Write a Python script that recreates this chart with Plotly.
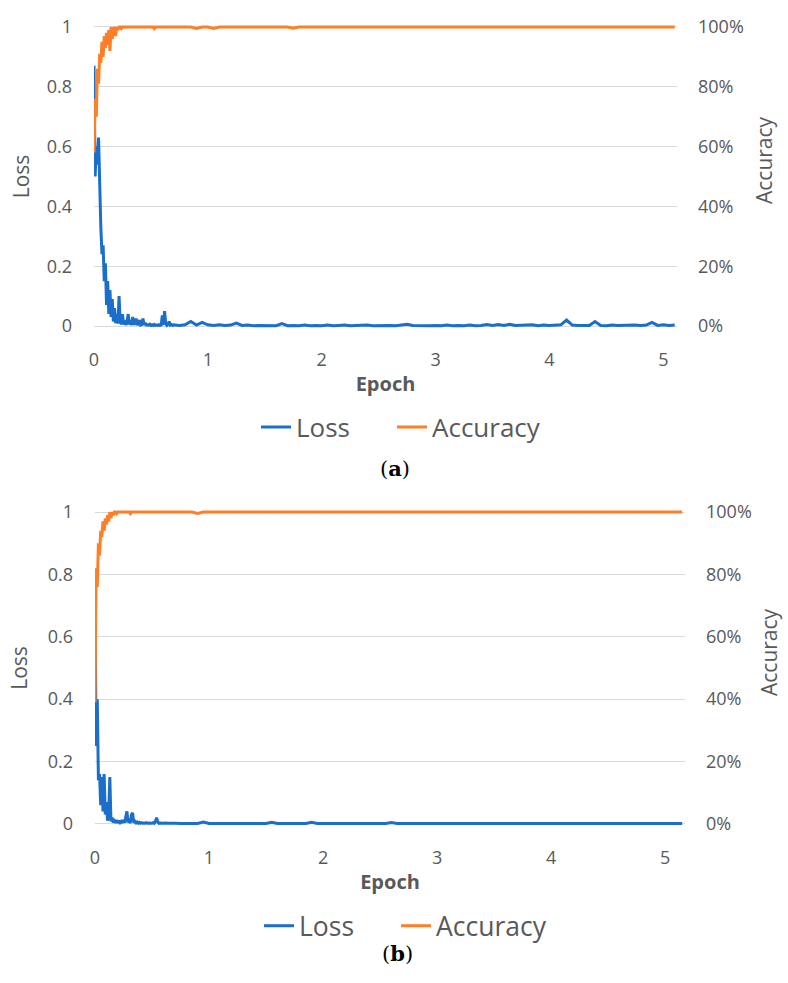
import plotly.graph_objects as go

# ---------------- data ----------------
# Panel (a): dense early samples every 0.01 epoch (0.00-0.70), then every 0.05 epoch
loss_a_early = [0.87, 0.50, 0.60, 0.54, 0.63, 0.42, 0.33, 0.24, 0.27, 0.15,
                0.21, 0.07, 0.15, 0.04, 0.12, 0.03, 0.09, 0.015, 0.06, 0.01,
                0.04, 0.008, 0.10, 0.015, 0.006, 0.04, 0.005, 0.02, 0.004, 0.012,
                0.04, 0.005, 0.02, 0.003, 0.03, 0.004, 0.01, 0.025, 0.003, 0.008,
                0.02, 0.003, 0.005, 0.025, 0.003, 0.01, 0.003, 0.004, 0.003, 0.006,
                0.002, 0.004, 0.002, 0.005, 0.002, 0.003, 0.002, 0.004, 0.002, 0.003,
                0.035, 0.004, 0.05, 0.008, 0.002, 0.006, 0.015, 0.003, 0.005, 0.002,
                0.004]
loss_a_late = [0.002, 0.004, 0.015, 0.003, 0.012, 0.004, 0.002, 0.004, 0.002, 0.003,
               0.010, 0.002, 0.003, 0.001, 0.002, 0.001, 0.002, 0.001, 0.008, 0.001,
               0.002, 0.001, 0.003, 0.001, 0.002, 0.001, 0.003, 0.001, 0.002, 0.003,
               0.001, 0.002, 0.001, 0.003, 0.001, 0.002, 0.001, 0.002, 0.001, 0.003,
               0.006, 0.002, 0.001, 0.002, 0.001, 0.002, 0.001, 0.003, 0.001, 0.002,
               0.001, 0.003, 0.001, 0.002, 0.005, 0.002, 0.005, 0.002, 0.006, 0.002,
               0.003, 0.002, 0.004, 0.001, 0.003, 0.002, 0.003, 0.004, 0.020, 0.003,
               0.002, 0.003, 0.002, 0.015, 0.002, 0.001, 0.003, 0.002, 0.003, 0.002,
               0.003, 0.002, 0.003, 0.012, 0.002, 0.004, 0.002, 0.003]
acc_a_early = [0.58, 0.76, 0.70, 0.86, 0.81, 0.91, 0.88, 0.95, 0.90, 0.97,
               0.93, 0.98, 0.94, 0.99, 0.92, 1.00, 0.96, 0.99, 1.00, 0.97,
               1.00, 0.99, 1.00, 1.00, 0.995, 1.00, 1.00, 1.00, 1.00, 1.00,
               1.00, 1.00, 1.00, 1.00, 1.00, 1.00, 1.00, 1.00, 1.00, 1.00,
               1.00, 1.00, 1.00, 1.00, 1.00, 1.00, 1.00, 1.00, 1.00, 1.00,
               1.00, 1.00, 1.00, 0.995, 1.00, 1.00, 1.00, 1.00, 1.00, 1.00,
               1.00, 1.00, 1.00, 1.00, 1.00, 1.00, 1.00, 1.00, 1.00, 1.00,
               1.00]
acc_a_late = [1.00, 1.00, 1.00, 0.995, 1.00, 1.00, 0.995, 1.00, 1.00, 1.00,
              1.00, 1.00, 1.00, 1.00, 1.00, 1.00, 1.00, 1.00, 1.00, 1.00,
              0.996, 1.00, 1.00, 1.00, 1.00, 1.00, 1.00, 1.00, 1.00, 1.00,
              1.00, 1.00, 1.00, 1.00, 1.00, 1.00, 1.00, 1.00, 1.00, 1.00,
              1.00, 1.00, 1.00, 1.00, 1.00, 1.00, 1.00, 1.00, 1.00, 1.00,
              1.00, 1.00, 1.00, 1.00, 1.00, 1.00, 1.00, 1.00, 1.00, 1.00,
              1.00, 1.00, 1.00, 1.00, 1.00, 1.00, 1.00, 1.00, 1.00, 1.00,
              1.00, 1.00, 1.00, 1.00, 1.00, 1.00, 1.00, 1.00, 1.00, 1.00,
              1.00, 1.00, 1.00, 1.00, 1.00, 1.00, 1.00, 1.00]

# Panel (b)
loss_b_early = [0.73, 0.25, 0.40, 0.14, 0.16, 0.06, 0.15, 0.04, 0.16, 0.03,
                0.07, 0.01, 0.03, 0.15, 0.008, 0.02, 0.005, 0.01, 0.004, 0.012,
                0.003, 0.01, 0.004, 0.008, 0.003, 0.012, 0.004, 0.03, 0.04, 0.005,
                0.01, 0.003, 0.03, 0.035, 0.004, 0.008, 0.003, 0.006, 0.002, 0.005,
                0.002, 0.004, 0.002, 0.003, 0.002, 0.004, 0.002, 0.003, 0.002, 0.003,
                0.002, 0.004, 0.002, 0.008, 0.02, 0.006, 0.002, 0.003, 0.002, 0.003,
                0.002, 0.003, 0.002, 0.003, 0.002, 0.002, 0.003, 0.002, 0.002, 0.003,
                0.002]
loss_b_late = [0.001, 0.002, 0.001, 0.001, 0.006, 0.001, 0.002, 0.001, 0.001, 0.002,
               0.001, 0.001, 0.002, 0.001, 0.001, 0.001, 0.005, 0.001, 0.001, 0.002,
               0.001, 0.001, 0.001, 0.005, 0.001, 0.001, 0.001, 0.001, 0.003, 0.001,
               0.001, 0.001, 0.001, 0.001, 0.003, 0.001, 0.001, 0.004, 0.001, 0.001,
               0.001, 0.001, 0.001, 0.001, 0.002, 0.001, 0.001, 0.001, 0.001, 0.001,
               0.002, 0.001, 0.001, 0.001, 0.001, 0.001, 0.001, 0.002, 0.001, 0.001,
               0.001, 0.001, 0.002, 0.001, 0.001, 0.001, 0.002, 0.001, 0.001, 0.001,
               0.001, 0.001, 0.001, 0.001, 0.001, 0.002, 0.001, 0.001, 0.001, 0.001,
               0.001, 0.001, 0.001, 0.001, 0.001, 0.001, 0.002, 0.001, 0.001]
acc_b_early = [0.39, 0.82, 0.76, 0.90, 0.86, 0.94, 0.92, 0.97, 0.94, 0.98,
               0.96, 0.99, 0.97, 1.00, 0.98, 1.00, 0.99, 1.00, 1.00, 0.995,
               1.00, 1.00, 1.00, 1.00, 1.00, 1.00, 1.00, 1.00, 1.00, 1.00,
               1.00, 0.995, 1.00, 1.00, 1.00, 1.00, 1.00, 1.00, 1.00, 1.00,
               1.00, 1.00, 1.00, 1.00, 1.00, 1.00, 1.00, 1.00, 1.00, 1.00,
               1.00, 1.00, 1.00, 1.00, 1.00, 1.00, 1.00, 1.00, 1.00, 1.00,
               1.00, 1.00, 1.00, 1.00, 1.00, 1.00, 1.00, 1.00, 1.00, 1.00,
               1.00]
acc_b_late = [1.00, 1.00, 1.00, 0.996, 1.00, 1.00, 1.00, 1.00, 1.00, 1.00,
              1.00, 1.00, 1.00, 1.00, 1.00, 1.00, 1.00, 1.00, 1.00, 1.00,
              1.00, 1.00, 1.00, 1.00, 1.00, 1.00, 1.00, 1.00, 1.00, 1.00,
              1.00, 1.00, 1.00, 1.00, 1.00, 1.00, 1.00, 1.00, 1.00, 1.00,
              1.00, 1.00, 1.00, 1.00, 1.00, 1.00, 1.00, 1.00, 1.00, 1.00,
              1.00, 1.00, 1.00, 1.00, 1.00, 1.00, 1.00, 1.00, 1.00, 1.00,
              1.00, 1.00, 1.00, 1.00, 1.00, 1.00, 1.00, 1.00, 1.00, 1.00,
              1.00, 1.00, 1.00, 1.00, 1.00, 1.00, 1.00, 1.00, 1.00, 1.00,
              1.00, 1.00, 1.00, 1.00, 1.00, 1.00, 1.00, 1.00, 1.00]

x_ticks = [0, 1, 2, 3, 4, 5]
loss_ticks = [0, 0.2, 0.4, 0.6, 0.8, 1]
loss_tick_labels = ["0", "0.2", "0.4", "0.6", "0.8", "1"]
acc_ticks = [0, 0.2, 0.4, 0.6, 0.8, 1]
acc_tick_labels = ["0%", "20%", "40%", "60%", "80%", "100%"]


def epochs(n_early, n_late):
    early = [round(i * 0.01, 2) for i in range(n_early)]
    late = [round(0.75 + i * 0.05, 2) for i in range(n_late)]
    return early + late


ep_a = epochs(len(loss_a_early), len(loss_a_late))
ep_b = epochs(len(loss_b_early), len(loss_b_late))
loss_a = loss_a_early + loss_a_late
acc_a = acc_a_early + acc_a_late
loss_b = loss_b_early + loss_b_late
acc_b = acc_b_early + acc_b_late

# ---------------- styling ----------------
BLUE = "#1b6fca"
ORANGE = "#fd7f27"
TXT = "#595959"
GRID = "#d9d9d9"
FONT = "Open Sans"
W, H = 788, 983

fig = go.Figure()
fig.add_trace(go.Scatter(x=ep_a, y=loss_a, name="Loss", mode="lines",
                         line=dict(color=BLUE, width=3), xaxis="x", yaxis="y",
                         legend="legend", legendwidth=91))
fig.add_trace(go.Scatter(x=ep_a, y=acc_a, name="Accuracy", mode="lines",
                         line=dict(color=ORANGE, width=3), xaxis="x", yaxis="y2",
                         legend="legend", legendwidth=125))
fig.add_trace(go.Scatter(x=ep_b, y=loss_b, name="Loss", mode="lines",
                         line=dict(color=BLUE, width=3), xaxis="x2", yaxis="y3",
                         legend="legend2", legendwidth=92))
fig.add_trace(go.Scatter(x=ep_b, y=acc_b, name="Accuracy", mode="lines",
                         line=dict(color=ORANGE, width=3), xaxis="x2", yaxis="y4",
                         legend="legend2", legendwidth=125))


def px_y(p):
    return 1 - p / H


def xaxis_cfg(domain, rng, anchor):
    return dict(domain=domain, range=rng, anchor=anchor, tickvals=x_ticks,
                showgrid=False, zeroline=False, showline=False, ticks="",
                automargin=False,
                tickfont=dict(family=FONT, size=18, color=TXT),
                ticklabelstandoff=18,
                title=dict(text="<b>Epoch</b>", standoff=6,
                           font=dict(family=FONT, size=20, color=TXT)))


def yleft_cfg(domain, anchor, standoff):
    return dict(domain=domain, range=[-0.01, 1.01], anchor=anchor,
                tickvals=loss_ticks, ticktext=loss_tick_labels,
                showgrid=True, gridcolor=GRID, gridwidth=1, zeroline=False,
                showline=False, ticks="", ticklabelstandoff=21, automargin=False,
                tickfont=dict(family=FONT, size=18, color=TXT),
                title=dict(text="Loss", standoff=standoff,
                           font=dict(family=FONT, size=21, color=TXT)))


def yright_cfg(overlay, anchor):
    return dict(overlaying=overlay, side="right", range=[-0.01, 1.01], anchor=anchor,
                tickvals=acc_ticks, ticktext=acc_tick_labels, showgrid=False,
                zeroline=False, showline=False, ticks="", ticklabelstandoff=20,
                automargin=False,
                tickfont=dict(family=FONT, size=18, color=TXT))


dom_xa = [94 / W, 677 / W]
dom_ya = [px_y(329), px_y(24)]
dom_xb = [95 / W, 685 / W]
dom_yb = [px_y(827), px_y(509)]

title_font = dict(family=FONT, size=21, color=TXT)
cap_font = dict(family="DejaVu Serif", size=21, color="#000000")

fig.update_layout(
    width=W, height=H,
    margin=dict(l=0, r=0, t=0, b=0, autoexpand=False),
    paper_bgcolor="white", plot_bgcolor="white",
    font=dict(family=FONT, color=TXT),
    xaxis=xaxis_cfg(dom_xa, [0, 5.12], "y"),
    yaxis=yleft_cfg(dom_ya, "x", 11),
    yaxis2=yright_cfg("y", "x"),
    xaxis2=xaxis_cfg(dom_xb, [0, 5.175], "y3"),
    yaxis3=yleft_cfg(dom_yb, "x2", 14),
    yaxis4=yright_cfg("y3", "x2"),
    legend=dict(orientation="h", x=256 / W, xanchor="left", y=px_y(427), yanchor="middle",
                font=dict(family=FONT, size=26, color=TXT),
                bgcolor="rgba(0,0,0,0)"),
    legend2=dict(orientation="h", x=259 / W, xanchor="left", y=px_y(926), yanchor="middle",
                 font=dict(family=FONT, size=26.5, color=TXT),
                 bgcolor="rgba(0,0,0,0)"),
    annotations=[
        dict(text="Accuracy", x=764 / W, y=px_y(160), xref="paper", yref="paper",
             xanchor="center", yanchor="middle",
             textangle=-90, showarrow=False, font=title_font),
        dict(text="Accuracy", x=769 / W, y=px_y(652), xref="paper", yref="paper",
             xanchor="center", yanchor="middle",
             textangle=-90, showarrow=False, font=title_font),
        dict(text="(<b>a</b>)", x=395 / W, y=px_y(468), xref="paper", yref="paper",
             showarrow=False, font=cap_font),
        dict(text="(<b>b</b>)", x=397 / W, y=px_y(968), xref="paper", yref="paper",
             showarrow=False, font=cap_font),
    ],
)

fig.write_html("out.html")
